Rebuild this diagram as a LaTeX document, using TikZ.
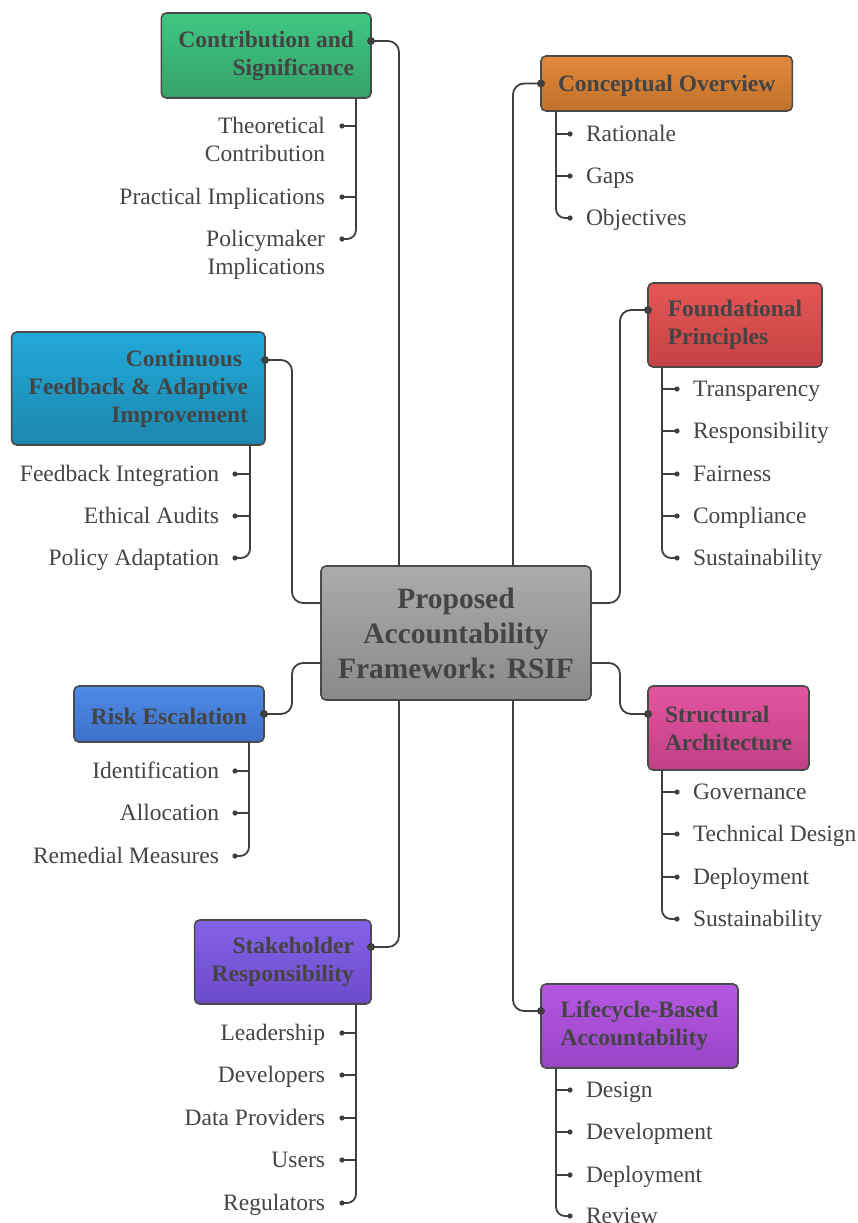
\documentclass[tikz,border=0pt]{standalone}
\usepackage{fontspec}
\setmainfont{Liberation Serif}
\definecolor{txt}{HTML}{444444}
\definecolor{ln}{HTML}{3F3F3F}
\definecolor{bd}{HTML}{4A4A4A}
\definecolor{grT}{HTML}{ABABAB}\definecolor{grB}{HTML}{8A8A8A}
\definecolor{gnT}{HTML}{3FC882}\definecolor{gnB}{HTML}{35A169}
\definecolor{orT}{HTML}{E2893A}\definecolor{orB}{HTML}{C2712B}
\definecolor{rdT}{HTML}{E45656}\definecolor{rdB}{HTML}{C54343}
\definecolor{pkT}{HTML}{E2559F}\definecolor{pkB}{HTML}{C23F86}
\definecolor{puT}{HTML}{B658E2}\definecolor{puB}{HTML}{9744C6}
\definecolor{viT}{HTML}{8662E8}\definecolor{viB}{HTML}{6C4BC9}
\definecolor{blT}{HTML}{4D8BE6}\definecolor{blB}{HTML}{3D70C9}
\definecolor{cyT}{HTML}{22A9D9}\definecolor{cyB}{HTML}{1C87AF}
\tikzset{
  hbox/.style={draw=bd, line width=1.6pt, rounded corners=5pt, inner xsep=17pt,
    inner ysep=0pt, outer sep=0pt, font=\fontsize{23.5}{28}\selectfont\bfseries, text=txt},
  hhead/.style={hbox, execute at begin node={\rule{0pt}{22pt}}},
  conn/.style={draw=ln, line width=1.8pt, rounded corners=11pt},
  sub/.style={draw=ln, line width=1.8pt, rounded corners=9pt},
  tick/.style={draw=ln, line width=1.8pt},
  item/.style={inner sep=0pt, outer sep=0pt, font=\fontsize{23.5}{28}\selectfont, text=txt},
}
\begin{document}
\begin{tikzpicture}[x=1pt,y=-1pt]
\useasboundingbox (0,0) rectangle (858,1223);

% central node
\node[hbox, font=\fontsize{29.5}{35}\selectfont\bfseries, align=center,
  minimum width=270pt, minimum height=134pt, top color=grT, bottom color=grB] (c) at (456,633)
  {Proposed\\Accountability\\Framework: RSIF};

% headings
\node[hhead, anchor=east, align=right, minimum height=85pt, top color=gnT, bottom color=gnB]
  (contrib) at (371,55.5) {Contribution and\\Significance};
\node[hhead, anchor=west, align=left, minimum height=55pt, top color=orT, bottom color=orB]
  (concept) at (541,83.5) {Conceptual Overview};
\node[hhead, anchor=west, align=left, minimum height=84pt, minimum width=174pt, top color=rdT, bottom color=rdB]
  (found) at (648,325) {Foundational\\Principles};
\node[hhead, anchor=east, align=right, minimum height=113pt, top color=cyT, bottom color=cyB]
  (cont) at (265,388.5) {Continuous\hspace*{5.9pt}\\Feedback \& Adaptive\\Improvement};
\node[hhead, anchor=east, align=right, minimum height=56pt, top color=blT, bottom color=blB]
  (risk) at (264,714) {Risk Escalation};
\node[hhead, anchor=west, align=left, minimum height=84pt, top color=pkT, bottom color=pkB]
  (struct) at (648,728) {Structural\\Architecture};
\node[hhead, anchor=east, align=right, minimum height=84pt, top color=viT, bottom color=viB]
  (stake) at (371,962) {Stakeholder\\Responsibility};
\node[hhead, anchor=west, align=left, minimum height=84pt, minimum width=197pt, top color=puT, bottom color=puB]
  (life) at (541,1026) {Lifecycle-Based\\Accountability};

% main connectors
\coordinate (contribP) at ([yshift=14.5pt]contrib.east);
\coordinate (conceptP) at (concept.west);
\coordinate (foundP) at ([yshift=15pt]found.west);
\coordinate (contP) at ([yshift=28.5pt]cont.east);
\coordinate (riskP) at (risk.east);
\coordinate (structP) at ([yshift=14pt]struct.west);
\coordinate (stakeP) at ([yshift=15pt]stake.east);
\coordinate (lifeP) at ([yshift=15pt]life.west);

\draw[conn] (contribP) -| ([xshift=-57pt]c.north);
\draw[conn] (conceptP) -| ([xshift=57pt]c.north);
\draw[conn] ([yshift=30pt]c.east) -- ++(29,0) |- (foundP);
\draw[conn] ([yshift=-30pt]c.east) -- ++(29,0) |- (structP);
\draw[conn] ([xshift=57pt]c.south) |- (lifeP);
\draw[conn] ([xshift=-57pt]c.south) |- (stakeP);
\draw[conn] ([yshift=-30pt]c.west) -- ++(-29,0) |- (riskP);
\draw[conn] ([yshift=30pt]c.west) -- ++(-29,0) |- (contP);
\foreach \p in {contribP,conceptP,foundP,contP,riskP,structP,stakeP,lifeP}
  \fill[ln] (\p) circle (4pt);

% ---------- sub-items, right side ----------
% Conceptual Overview
\coordinate (coL) at ([xshift=15pt]concept.south west);
\foreach \k/\y/\t in {1/134/Rationale,2/176/Gaps,3/218/Objectives}{
  \node[item,anchor=base west] (co\k) at (586,\y+7) {\t};
  \coordinate (cod\k) at ([shift={(-16pt,7pt)}]co\k.base west);
}
\draw[sub] (coL) |- (cod3);
\foreach \k in {1,2} \draw[tick] (cod\k) -- (cod\k -| coL);
\foreach \k in {1,2,3} \fill[ln] (cod\k) circle (2.6pt);

% Foundational Principles
\coordinate (fpL) at ([xshift=14pt]found.south west);
\foreach \k/\y/\t in {1/389/Transparency,2/431/Responsibility,3/474/Fairness,4/516/Compliance,5/558/Sustainability}{
  \node[item,anchor=base west] (fp\k) at (693,\y+7) {\t};
  \coordinate (fpd\k) at ([shift={(-16pt,7pt)}]fp\k.base west);
}
\draw[sub] (fpL) |- (fpd5);
\foreach \k in {1,...,4} \draw[tick] (fpd\k) -- (fpd\k -| fpL);
\foreach \k in {1,...,5} \fill[ln] (fpd\k) circle (2.6pt);

% Structural Architecture
\coordinate (saL) at ([xshift=14pt]struct.south west);
\foreach \k/\y/\t in {1/792/Governance,2/834/Technical Design,3/877/Deployment,4/919/Sustainability}{
  \node[item,anchor=base west] (sa\k) at (693,\y+7) {\t};
  \coordinate (sad\k) at ([shift={(-16pt,7pt)}]sa\k.base west);
}
\draw[sub] (saL) |- (sad4);
\foreach \k in {1,...,3} \draw[tick] (sad\k) -- (sad\k -| saL);
\foreach \k in {1,...,4} \fill[ln] (sad\k) circle (2.6pt);

% Lifecycle-Based Accountability
\coordinate (lbL) at ([xshift=15pt]life.south west);
\foreach \k/\y/\t in {1/1090/Design,2/1132/Development,3/1175/Deployment,4/1216/Review}{
  \node[item,anchor=base west] (lb\k) at (586,\y+7) {\t};
  \coordinate (lbd\k) at ([shift={(-16pt,7pt)}]lb\k.base west);
}
\draw[sub] (lbL) |- (lbd4);
\foreach \k in {1,...,3} \draw[tick] (lbd\k) -- (lbd\k -| lbL);
\foreach \k in {1,...,4} \fill[ln] (lbd\k) circle (2.6pt);

% ---------- sub-items, left side ----------
% Contribution and Significance
\coordinate (csL) at ([xshift=-15pt]contrib.south east);
\node[item,anchor=base east,align=right] (cs1) at (325,161) {Theoretical\\Contribution};
\coordinate (csd1) at ([shift={(17pt,35pt)}]cs1.base east);
\node[item,anchor=base east] (cs2) at (325,204) {Practical Implications};
\coordinate (csd2) at ([shift={(17pt,7pt)}]cs2.base east);
\node[item,anchor=base east,align=right] (cs3) at (325,274) {Policymaker\\Implications};
\coordinate (csd3) at ([shift={(17pt,35pt)}]cs3.base east);
\draw[sub] (csL) |- (csd3);
\foreach \k in {1,2} \draw[tick] (csd\k) -- (csd\k -| csL);
\foreach \k in {1,2,3} \fill[ln] (csd\k) circle (2.6pt);

% Continuous Feedback
\coordinate (cfL) at ([xshift=-15pt]cont.south east);
\foreach \k/\y/\t in {1/474/Feedback Integration,2/516/Ethical Audits,3/558/Policy Adaptation}{
  \node[item,anchor=base east] (cf\k) at (219,\y+7) {\t};
  \coordinate (cfd\k) at ([shift={(16pt,7pt)}]cf\k.base east);
}
\draw[sub] (cfL) |- (cfd3);
\foreach \k in {1,2} \draw[tick] (cfd\k) -- (cfd\k -| cfL);
\foreach \k in {1,2,3} \fill[ln] (cfd\k) circle (2.6pt);

% Risk Escalation
\coordinate (reL) at ([xshift=-15pt]risk.south east);
\foreach \k/\y/\t in {1/771/Identification,2/813/Allocation,3/856/Remedial Measures}{
  \node[item,anchor=base east] (re\k) at (219,\y+7) {\t};
  \coordinate (red\k) at ([shift={(16pt,7pt)}]re\k.base east);
}
\draw[sub] (reL) |- (red3);
\foreach \k in {1,2} \draw[tick] (red\k) -- (red\k -| reL);
\foreach \k in {1,2,3} \fill[ln] (red\k) circle (2.6pt);

% Stakeholder Responsibility
\coordinate (srL) at ([xshift=-15pt]stake.south east);
\foreach \k/\y/\t in {1/1033/Leadership,2/1075/Developers,3/1118/Data Providers,4/1160/Users,5/1203/Regulators}{
  \node[item,anchor=base east] (sr\k) at (325,\y+7) {\t};
  \coordinate (srd\k) at ([shift={(17pt,7pt)}]sr\k.base east);
}
\draw[sub] (srL) |- (srd5);
\foreach \k in {1,...,4} \draw[tick] (srd\k) -- (srd\k -| srL);
\foreach \k in {1,...,5} \fill[ln] (srd\k) circle (2.6pt);
\end{tikzpicture}
\end{document}
